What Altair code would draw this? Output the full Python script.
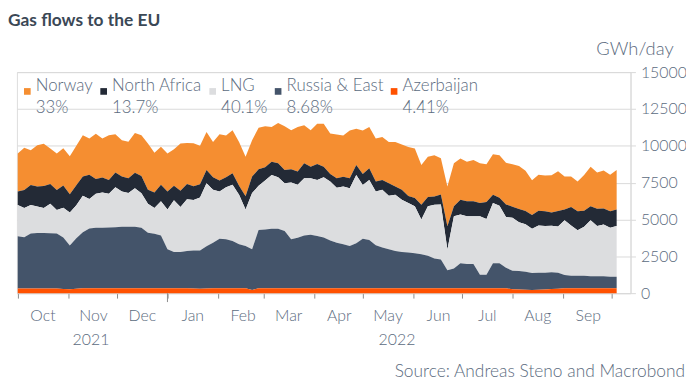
import altair as alt
import pandas as pd

# ---------------- data ----------------
series = ["Norway", "North Africa", "LNG", "Russia & East", "Azerbaijan"]
shares = ["33%", "13.7%", "40.1%", "8.68%", "4.41%"]
colors = ["#F58E31", "#232A36", "#DCDDDF", "#44546A", "#FF5100"]

first_day = "2021-10-01"   # sampled every 4 days
step = "4D"

norway = [2580, 2870, 2350, 2800, 2870, 2400, 2470, 2530, 2580, 2690,
          2800, 2470, 3070, 2650, 3030, 2600, 2470, 2470, 2690, 2760,
          3140, 2690, 2580, 2580, 2470, 3210, 2780, 2920, 2620, 2580,
          2400, 3140, 2830, 2920, 2980, 2690, 2470, 2830, 2780, 2350,
          2740, 2960, 2650, 3030, 2580, 2470, 2740, 2920, 2740, 2980,
          2800, 3250, 2470, 2960, 2800, 2920, 2920, 2800, 3030, 3070,
          3320, 3360, 2690, 2740, 2800, 2470, 2690, 2920, 2800, 2690,
          2800, 2690, 2560, 2760, 2890, 2830, 2870, 2920, 2740, 2350,
          2440, 2420, 2530, 2710, 2240, 2060, 2020, 2420, 2690, 2470,
          2580, 2470, 2690]
north_africa = [900, 1230, 1350, 1350, 1500, 1350, 1350, 1500, 1230, 1350,
                1300, 1640, 1010, 1010, 940, 990, 1010, 1010, 1050, 1170,
                940, 1050, 1120, 1230, 990, 1100, 1030, 940, 900, 900,
                850, 740, 670, 790, 610, 900, 1120, 1120, 900, 900,
                940, 900, 900, 900, 1010, 790, 1080, 720, 520, 630,
                670, 670, 670, 740, 790, 670, 670, 850, 560, 670,
                490, 560, 1010, 630, 560, 670, 1570, 670, 1010, 1010,
                1010, 900, 1140, 560, 540, 850, 760, 900, 900, 940,
                1010, 1010, 900, 1050, 720, 1260, 1280, 1100, 940, 1170,
                1080, 1120, 1120]
lng = [2130, 1970, 1950, 1790, 1680, 2000, 1610, 2020, 2240, 2240,
       2470, 2000, 2310, 2400, 2290, 2710, 2400, 2290, 2620, 2350,
       1970, 1750, 2310, 2690, 3500, 3050, 3520, 3430, 3590, 4260,
       3590, 3210, 3540, 3810, 3360, 2470, 3810, 3000, 3320, 3650,
       3500, 3250, 3860, 3590, 3880, 3830, 3810, 4080, 3990, 3740,
       3920, 3920, 4640, 3650, 4080, 3650, 3920, 3630, 3810, 3540,
       3360, 3180, 2350, 3360, 3650, 3740, 1410, 3540, 3300, 3250,
       3250, 3970, 3790, 4080, 3900, 3450, 3590, 3300, 3210, 3000,
       3210, 3160, 3160, 3140, 3720, 3410, 3090, 3320, 3810, 3410,
       3520, 3320, 3430]
russia_east = [3540, 3480, 3720, 3770, 3770, 3740, 3720, 3500, 2980, 3430,
               3810, 4060, 4100, 4100, 4120, 4150, 4170, 4170, 4170, 4100,
               3770, 3700, 3590, 2650, 2470, 2470, 2530, 2580, 2600, 2870,
               3090, 3360, 3320, 3210, 2980, 2870, 2760, 3950, 3990, 4040,
               4040, 3880, 3320, 3430, 3590, 3630, 3540, 3450, 3250, 3090,
               2980, 2870, 3050, 3360, 3270, 2920, 2760, 2650, 2530, 2470,
               2420, 2380, 2310, 2200, 2020, 1950, 1230, 1350, 1700, 1640,
               1640, 920, 920, 1700, 1700, 1390, 1260, 1260, 1230, 1150,
               1150, 1140, 1130, 1080, 900, 850, 850, 850, 810, 810,
               810, 790, 790]
azerbaijan = [320, 320, 320, 320, 320, 320, 320, 280, 260, 300,
              330, 330, 330, 330, 330, 330, 330, 330, 330, 330,
              330, 330, 330, 330, 330, 330, 330, 310, 300, 320,
              330, 330, 330, 330, 330, 330, 220, 330, 330, 330,
              330, 330, 330, 330, 330, 330, 330, 330, 330, 330,
              330, 330, 330, 330, 330, 330, 330, 330, 330, 330,
              330, 330, 330, 330, 330, 330, 330, 330, 330, 330,
              330, 330, 330, 330, 330, 330, 260, 250, 230, 220,
              230, 250, 280, 300, 330, 330, 330, 330, 330, 330,
              330, 330, 330]

month_ticks = ["2021-10", "2021-11", "2021-12", "2022-01", "2022-02", "2022-03",
               "2022-04", "2022-05", "2022-06", "2022-07", "2022-08", "2022-09", "2022-10"]
year_labels = ["2021", "2022"]
year_label_dates = ["2021-11-15", "2022-05-22"]
major_tick_dates = ["2022-01-01"]
title_text = "Gas flows to the EU"
unit_text = "GWh/day"
source_text = "Source: Andreas Steno and Macrobond"

# ---------------- build table ----------------
values_by_series = [norway, north_africa, lng, russia_east, azerbaijan]
dates = pd.date_range(first_day, periods=len(norway), freq=step)
rows = []
for idx, (name, vals) in enumerate(zip(series, values_by_series)):
    for d, v in zip(dates, vals):
        rows.append({"date": d, "series": name, "value": v,
                     "rank": len(series) - 1 - idx})
df = pd.DataFrame(rows)

def dt(s):
    y, m = s.split("-")[:2]
    return alt.DateTime(year=int(y), month=int(m), date=1)

W, H = 619, 223
TEXT = "#5B6B7E"
FONT = "Lato"
LW = 300

x_scale = alt.Scale(domain=[alt.DateTime(year=2021, month=9, date=30, hours=12),
                            alt.DateTime(year=2022, month=10, date=12, hours=12)])

legend_expr = "".join(
    f"datum.label == '{s}' ? ['{s}', '{p}'] : " for s, p in zip(series, shares)
) + "datum.label"

area = alt.Chart(df).mark_area(interpolate="linear", strokeWidth=0).encode(
    x=alt.X("date:T", scale=x_scale, title=None,
            axis=alt.Axis(values=[dt(m) for m in month_ticks],
                          labelExpr="(year(datum.value) == 2022 && month(datum.value) == 9) ? '' : timeFormat(datum.value, '%b')",
                          labelOffset=25, labelFlush=False, labelOverlap=False,
                          labelBound=False, tickSize=5, tickColor="#8C8C8C",
                          domainColor="#D9D9D9", labelPadding=10, grid=False,
                          labelBaseline="top",
                          labelFontSize=16, labelColor=TEXT, labelFont=FONT,
                          labelFontWeight=LW)),
    y=alt.Y("value:Q", stack="zero", scale=alt.Scale(domain=[0, 15000], nice=False),
            axis=alt.Axis(orient="right", values=list(range(0, 15001, 2500)), format="d",
                          grid=True, gridColor="#DADADA", domainColor="#D9D9D9",
                          tickColor="#D9D9D9", tickSize=5, labelPadding=5,
                          labelFontSize=16, labelColor=TEXT, labelFont=FONT,
                          labelFontWeight=LW,
                          title=unit_text, titleAngle=0, titleX=4, titleY=-18,
                          titleAlign="center", titleBaseline="alphabetic",
                          titleFontSize=18.5, titleFontWeight=LW,
                          titleColor=TEXT, titleFont=FONT)),
    color=alt.Color("series:N", scale=alt.Scale(domain=series, range=colors),
                    legend=alt.Legend(orient="none", legendX=2, legendY=11,
                                      direction="horizontal", columns=5, title=None,
                                      symbolType="square", symbolSize=45,
                                      symbolStrokeWidth=0, labelFontSize=17,
                                      labelColor=TEXT, labelFont=FONT,
                                      labelFontWeight=LW,
                                      labelBaseline="alphabetic",
                                      labelExpr=legend_expr, columnPadding=2,
                                      labelOffset=0, padding=0, labelLimit=300)),
    order=alt.Order("rank:Q", sort="ascending"),
)

major = alt.Chart(pd.DataFrame({"date": pd.to_datetime(major_tick_dates)})).mark_rule(
    color="#8C8C8C").encode(x="date:T", y=alt.value(H), y2=alt.value(H + 9))

years = alt.Chart(pd.DataFrame({"date": pd.to_datetime(year_label_dates),
                                "label": year_labels})).mark_text(
    fontSize=16, color=TEXT, font=FONT, fontWeight=LW, align="center",
    baseline="alphabetic").encode(
    x="date:T", y=alt.value(H + 52), text="label:N")

title = alt.Chart(pd.DataFrame({"t": [title_text]})).mark_text(
    fontSize=17.5, fontWeight="bold", color="#3B4856", font=FONT,
    align="left", baseline="alphabetic").encode(
    x=alt.value(-9), y=alt.value(-47), text="t:N")

source = alt.Chart(pd.DataFrame({"t": [source_text]})).mark_text(
    fontSize=17.5, color=TEXT, font=FONT, fontWeight=LW, align="right",
    baseline="alphabetic").encode(
    x=alt.value(674), y=alt.value(H + 85), text="t:N")

chart = alt.layer(area, major, years, title, source).properties(
    width=W, height=H,
    autosize=alt.AutoSizeParams(type="none"),
    padding={"left": 9, "top": 63, "right": 56, "bottom": 92},
).configure_view(stroke=None).configure(
    font=FONT, style={"guide-label": {"lineHeight": 21.5}})

chart.save("out.html", embed_options={"renderer": "svg", "actions": False})
